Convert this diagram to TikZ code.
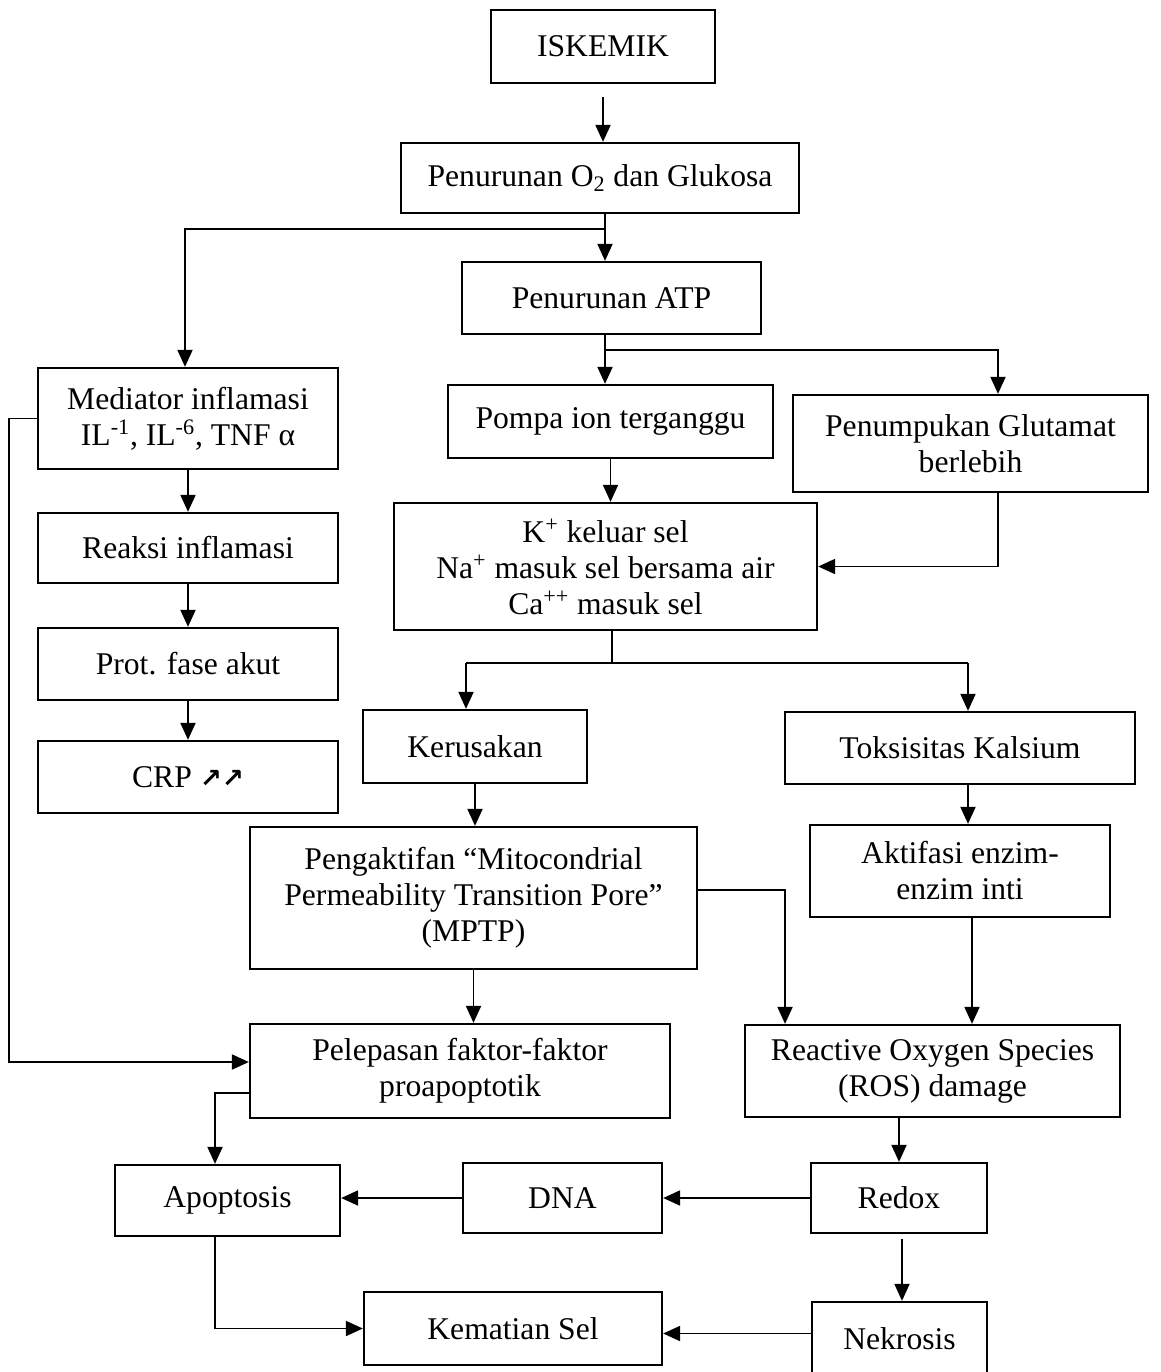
\documentclass[tikz,border=0pt]{standalone}
\usepackage{fontspec}
\setmainfont{Liberation Serif}
\newfontfamily\arrowfont{DejaVu Sans}
\usetikzlibrary{arrows.meta}
\begin{document}
\begin{tikzpicture}[x=0.02cm, y=-0.02cm,
  box/.style={draw, line width=1.3pt, align=center, inner sep=0pt,
    font=\fontsize{18}{20.5}\selectfont},
  wh/.style 2 args={minimum width=#1*0.02cm, minimum height=#2*0.02cm},
  link/.style={line width=1.1pt},
  arr/.style={link, -{Triangle[width=0.3cm, length=0.34cm]}}]
\useasboundingbox (0,0) rectangle (1160,1372);

% boxes
\node[box, wh={224}{73}]  (isk)    at (603,46.5)   {ISKEMIK};
\node[box, wh={398}{70}]  (o2)     at (600,178)    {Penurunan O\textsubscript{2} dan Glukosa};
\node[box, wh={299}{72}]  (atp)    at (611.5,298)  {Penurunan ATP};
\node[box, wh={300}{101}] (med)    at (188,418.5)  {Mediator inflamasi\\IL\textsuperscript{-1}, IL\textsuperscript{-6}, TNF α};
\node[box, wh={325}{73}]  (pompa)  at (610.5,421.5){Pompa ion terganggu};
\node[box, wh={355}{97}]  (glu)    at (970.5,443.5){Penumpukan Glutamat\\berlebih};
\node[box, wh={423}{127}] (kion)   at (605.5,566.5){K\textsuperscript{+} keluar sel\\Na\textsuperscript{+} masuk sel bersama air\\Ca\textsuperscript{++} masuk sel};
\node[box, wh={300}{70}]  (reaksi) at (188,548)    {Reaksi inflamasi};
\node[box, wh={300}{72}]  (prot)   at (188,664)    {Prot. fase akut};
\node[box, wh={300}{72}]  (crp)    at (188,777)    {CRP {\arrowfont\bfseries\fontsize{15}{15}\selectfont ↗↗}};
\node[box, wh={224}{73}]  (kerus)  at (475,746.5)  {Kerusakan};
\node[box, wh={350}{72}]  (toks)   at (960,748)    {Toksisitas Kalsium};
\node[box, wh={447}{142}] (mptp)   at (473.5,898)  {Pengaktifan “Mitocondrial\\Permeability Transition Pore”\\(MPTP)};
\node[box, wh={300}{92}]  (akt)    at (960,871)    {Aktifasi enzim-\\enzim inti};
\node[box, wh={420}{94}]  (pel)    at (460,1071)   {Pelepasan faktor-faktor\\proapoptotik};
\node[box, wh={375}{92}]  (ros)    at (932.5,1071) {Reactive Oxygen Species\\(ROS) damage};
\node[box, wh={225}{71}]  (apo)    at (227.5,1200.5){Apoptosis};
\node[box, wh={199}{70}]  (dna)    at (562.5,1198) {DNA};
\node[box, wh={176}{70}]  (redox)  at (899,1198)   {Redox};
\node[box, wh={298}{73}]  (kem)    at (513,1328.5) {Kematian Sel};
\node[box, wh={175}{74}]  (nek)    at (899.5,1339) {Nekrosis};

% junction points
\coordinate (jA) at (605,229);
\coordinate (jB) at (605,350);
\coordinate (jC) at (612,663);

% connectors
\draw[arr, shorten <=0.26cm] (isk.south) -- (isk.south |- o2.north);
\draw[arr] (o2.south -| jA) -- (atp.north -| jA);
\draw[arr] (jA) -| ([xshift=-0.06cm]med.north);
\draw[link] (atp.south -| jB) -- (jB);
\draw[arr] (jB) -| ([xshift=0.55cm]glu.north);
\draw[arr] (jB) -- (pompa.north -| jB);
\draw[arr] (pompa.south) -- (kion.north -| pompa.south);
\draw[arr] ([xshift=0.55cm]glu.south) |- (kion.east);
\draw[link] (kion.south -| jC) -- (jC);
\draw[link] ([xshift=-0.18cm]kerus.north |- jC) -- ([xshift=0.16cm]toks.north |- jC);
\draw[arr] ([xshift=-0.18cm]kerus.north |- jC) -- ([xshift=-0.18cm]kerus.north);
\draw[arr] ([xshift=0.16cm]toks.north |- jC) -- ([xshift=0.16cm]toks.north);

\draw[arr] (med.south) -- (reaksi.north);
\draw[arr] (reaksi.south) -- (prot.north);
\draw[arr] (prot.south) -- (crp.north);

\draw[arr] (kerus.south) -- (mptp.north -| kerus.south);
\draw[arr] ([xshift=0.16cm]toks.south) -- ([xshift=0.16cm]akt.north);
\draw[arr] ([yshift=0.16cm]mptp.east) -| ([xshift=-2.95cm]ros.north);
\draw[arr] ([xshift=0.24cm]akt.south) -- ([xshift=0.24cm]akt.south |- ros.north);
\draw[arr] (mptp.south) -- (mptp.south |- pel.north);
\draw[arr] (med.west) -- ++(-28,0) |- ([yshift=0.18cm]pel.west);

\draw[arr] ([yshift=-0.44cm]pel.west) -| ([xshift=-0.25cm]apo.north);
\draw[arr] (redox.north |- ros.south) -- (redox.north);
\draw[arr] (redox.west) -- (dna.east);
\draw[arr] (dna.west) -- (dna.west -| apo.east);
\draw[arr, shorten <=0.1cm] ([xshift=0.06cm]redox.south) -- ([xshift=0.06cm]redox.south |- nek.north);
\draw[arr] ([yshift=-0.1cm]kem.east -| nek.west) -- ([yshift=-0.1cm]kem.east);
\draw[arr] ([xshift=-0.25cm]apo.south) |- (kem.west);
\end{tikzpicture}
\end{document}
